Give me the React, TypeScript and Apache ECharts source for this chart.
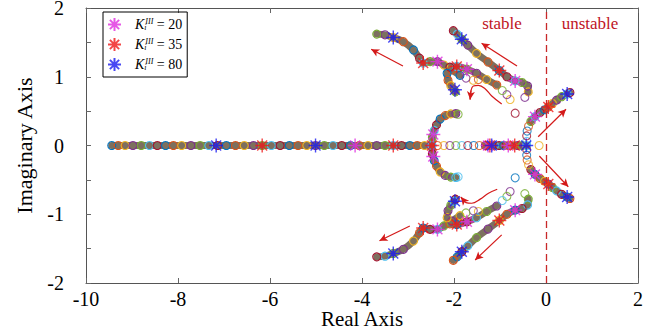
import React, { useEffect, useRef } from 'react';
import * as echarts from 'echarts';

// ---------- data ----------
// real-axis locus (imaginary part 0)
const realDenseLeft = [-9.44, -9.3, -9.15, -8.98, -8.8, -8.62, -8.45, -8.27, -8.1, -7.92, -7.72, -7.52, -7.33, -7.14, -6.95, -6.75, -6.56, -6.36, -6.17, -5.97, -5.78, -5.58, -5.39, -5.2, -5.01, -4.82, -4.63, -4.44, -4.25, -4.06, -3.87, -3.68, -3.5, -3.32, -3.14, -2.96, -2.8, -2.64, -2.5];
const realDenseRight = [-1.32, -1.22, -1.12, -1.02, -0.92, -0.82, -0.72, -0.62, -0.52, -0.42];
const realSparse = [-2.36, -2.22, -2.09, -1.96, -1.83, -1.7, -1.57, -1.45, -0.15];

// complex branches, upper half (lower half is the conjugate)
const branchP = [[-1.87, 1.02], [-2.05, 1.1], [-2.22, 1.17], [-2.36, 1.22], [-2.52, 1.22], [-2.67, 1.2], [-2.75, 1.27], [-2.88, 1.39], [-3.1, 1.51], [-3.32, 1.57], [-3.5, 1.61], [-3.68, 1.62]];
const branchPSparse = [[-1.47, 0.96], [-1.58, 0.95], [-1.74, 0.98]];
const branchQ = [[-1.07, 0.88], [-1.29, 0.96], [-1.51, 1.05], [-1.72, 1.11], [-1.94, 1.15], [-2.09, 1.14], [-2.15, 1.05], [-2.13, 0.95], [-2.07, 0.87], [-2.0, 0.81], [-1.97, 0.78]];
const branchQSparse = [[-0.78, 0.67], [-0.85, 0.74], [-0.95, 0.8]];
const branchZ = [[-0.385, 0.78], [-0.4, 0.865], [-0.52, 0.916], [-0.67, 0.94], [-0.85, 1.0], [-1.015, 1.09], [-1.26, 1.215], [-1.51, 1.34], [-1.7, 1.46], [-1.83, 1.545], [-1.93, 1.62], [-2.015, 1.67]];
const branchZSparse = [[-0.46, 0.7]];
const branchW = [[-2.48, 0], [-2.47, 0.12], [-2.43, 0.22], [-2.38, 0.3], [-2.3, 0.385], [-2.19, 0.435], [-2.07, 0.46], [-1.96, 0.465]];
const branchWSparse = [[-1.91, 0.455]];
const branchR = [[-0.33, 0.35], [-0.24, 0.42], [-0.13, 0.48], [-0.03, 0.52], [0.05, 0.56], [0.14, 0.61], [0.23, 0.66], [0.34, 0.71], [0.46, 0.75], [0.52, 0.77]];
const branchRSparse = [[-0.42, 0.06], [-0.42, 0.14], [-0.41, 0.21], [-0.38, 0.28]];
const isolatedRings = [[-0.67, 0.47]];

// gain markers
const k20Real = [-4.15, -1.26, -0.82];
const k20Complex = [[-2.45, 0.16], [-2.36, 1.22], [-1.72, 1.11], [-0.67, 0.94], [-0.24, 0.42]];
const k35Real = [-6.17, -3.32, -2.48, -1.22, -0.68];
const k35Complex = [[-2.67, 1.2], [-1.94, 1.15], [-1.015, 1.09], [0.05, 0.56]];
const k80Real = [-7.17, -5.01, -1.18, -0.43];
const k80Complex = [[-3.32, 1.57], [-1.98, 0.81], [-1.83, 1.545], [0.46, 0.75]];
const gainLabels = { K20: '20', K35: '35', K80: '80' };

// arrows [tail, head]
const straightArrows = [
  [[-3.11, 1.156], [-3.8, 1.4]],
  [[-0.63, 1.156], [-1.4, 1.487]],
  [[-0.17, 0.128], [0.435, 0.527]],
  [[-0.146, -0.153], [0.485, -0.6]],
  [[-2.96, -1.17], [-3.62, -1.385]],
  [[-0.963, -1.3], [-1.54, -1.665]],
];
const curvedArrowUpper = [[-0.963, 0.604], [-1.18, 0.72], [-1.33, 0.83], [-1.47, 0.875], [-1.58, 0.865], [-1.63, 0.8], [-1.65, 0.67]];
const curvedArrowLower = [[-1.06, -0.637], [-1.25, -0.695], [-1.43, -0.78], [-1.615, -0.84], [-1.74, -0.83], [-1.8, -0.79], [-1.85, -0.75]];

const xTicks = { min: -10, max: 2, interval: 2 };
const yTicks = { min: -2, max: 2, interval: 0.5 };

// ---------- styles ----------
const RING = ['#0072BD', '#D95319', '#EDB120', '#7E2F8E', '#77AC30', '#4DBEEE', '#A2142F'];
const BAND = '#7d705f';
const STAR = 'path://M10,0L10,20M0,10L20,10M2.9,2.9L17.1,17.1M2.9,17.1L17.1,2.9';
const SERIF = 'Liberation Serif';
const ARROW_RED = '#d41a1a';

const mirror = (pts: number[][]) => pts.map(([x, y]) => [x, -y]);
const onAxis = (xs: number[]) => xs.map((x) => [x, 0]);

function bandSeries(pts: number[][], key: number) {
  return {
    type: 'line',
    data: pts.map((p, i) => ({ value: p, itemStyle: { borderColor: RING[(i + key) % RING.length] } })),
    smooth: 0.3,
    symbol: 'circle',
    symbolSize: 8,
    showSymbol: true,
    lineStyle: { color: BAND, width: 7, cap: 'round', join: 'round' },
    itemStyle: { color: 'rgba(0,0,0,0)', borderWidth: 1.1 },
    z: 2,
    silent: true,
  };
}

function ringSeries(pts: number[][], key: number) {
  return {
    type: 'scatter',
    data: pts.map((p, i) => ({ value: p, itemStyle: { borderColor: RING[(i + key) % RING.length] } })),
    symbol: 'circle',
    symbolSize: 8,
    itemStyle: { color: 'rgba(0,0,0,0)', borderWidth: 1.1 },
    z: 2,
    silent: true,
  };
}

function starSeries(name: string, color: string, real: number[], cplx: number[][]) {
  return {
    type: 'scatter',
    name,
    data: [...onAxis(real), ...cplx, ...mirror(cplx)],
    symbol: STAR,
    symbolSize: 14,
    itemStyle: { color: 'rgba(0,0,0,0)', borderColor: color, borderWidth: 1.4 },
    z: 5,
    silent: true,
  };
}

function curveSeries(pts: number[][]) {
  const n = pts.length;
  return {
    type: 'line',
    data: pts,
    smooth: 0.4,
    symbol: 'none',
    lineStyle: { color: ARROW_RED, width: 1.2 },
    z: 6,
    silent: true,
    markLine: {
      silent: true,
      symbol: ['none', 'arrow'],
      symbolSize: [6, 8],
      label: { show: false },
      lineStyle: { color: ARROW_RED, width: 1.2, type: 'solid' },
      data: [[{ coord: pts[n - 2] }, { coord: pts[n - 1] }]],
    },
  };
}

export default function App() {
  const ref = useRef<HTMLDivElement>(null);
  useEffect(() => {
    if (!ref.current) return;
    const chart = echarts.init(ref.current, null, { renderer: 'svg' });

    const bands = [branchP, branchQ, branchZ, branchW, branchR];
    const sparse = [branchPSparse, branchQSparse, branchZSparse, branchWSparse, branchRSparse, isolatedRings];
    const series: any[] = [];
    series.push(bandSeries(onAxis(realDenseLeft), 0));
    series.push(bandSeries(onAxis(realDenseRight), 3));
    series.push(ringSeries(onAxis(realSparse), 1));
    bands.forEach((b, i) => {
      series.push(bandSeries(b, i));
      series.push(bandSeries(mirror(b), i + 2));
    });
    sparse.forEach((s, i) => {
      series.push(ringSeries(s, i + 1));
      series.push(ringSeries(mirror(s), i + 2));
    });
    series.push(starSeries('K20', '#e02ee0', k20Real, k20Complex));
    series.push(starSeries('K35', '#f01818', k35Real, k35Complex));
    series.push(starSeries('K80', '#1a1af0', k80Real, k80Complex));
    series.push(curveSeries(curvedArrowUpper));
    series.push(curveSeries(curvedArrowLower));
    // straight arrows + stability boundary
    series.push({
      type: 'line',
      data: [],
      silent: true,
      z: 6,
      markLine: {
        silent: true,
        symbol: ['none', 'arrow'],
        symbolSize: [6, 8],
        label: { show: false },
        lineStyle: { color: ARROW_RED, width: 1.2, type: 'solid' },
        data: straightArrows.map(([a, b]) => [{ coord: a }, { coord: b }]),
      },
    });
    series.push({
      type: 'line',
      data: [],
      silent: true,
      z: 1,
      markLine: {
        silent: true,
        symbol: ['none', 'none'],
        label: { show: false },
        lineStyle: { color: '#c8282a', width: 1.3, type: [7, 4] },
        data: [{ xAxis: 0 }],
      },
    });

    const axisCommon = {
      axisLine: { show: true, onZero: false, lineStyle: { color: '#555', width: 1 } },
      axisTick: { show: true, inside: true, length: 5, lineStyle: { color: '#666' } },
      splitLine: { show: false },
    };

    chart.setOption({
      animation: false,
      backgroundColor: '#fff',
      grid: { left: 86, right: 27, top: 8, bottom: 51, containLabel: false, outerBoundsMode: 'none' },
      legend: {
        data: ['K20', 'K35', 'K80'],
        orient: 'vertical',
        left: 103,
        top: 12,
        itemWidth: 13,
        itemHeight: 13,
        itemGap: 5,
        padding: [5, 5, 5, 4],
        borderColor: '#000',
        borderWidth: 1,
        selectedMode: false,
        formatter: (name: string) => `{k|K}{sub|i}{sup|III}{eq| = ${(gainLabels as any)[name]}}`,
        textStyle: {
          color: '#000',
          fontFamily: SERIF,
          fontSize: 14,
          rich: {
            k: { fontFamily: SERIF, fontStyle: 'italic', fontSize: 14, lineHeight: 14, padding: [0, 0, 0, 9] },
            sub: { fontFamily: SERIF, fontStyle: 'italic', fontSize: 8, lineHeight: 14, verticalAlign: 'bottom', width: 1 },
            sup: { fontFamily: SERIF, fontStyle: 'italic', fontSize: 8, lineHeight: 14, verticalAlign: 'top' },
            eq: { fontFamily: SERIF, fontSize: 14, lineHeight: 14 },
          },
        },
      },
      xAxis: [
        {
          type: 'value',
          ...xTicks,
          position: 'bottom',
          name: 'Real Axis',
          nameLocation: 'middle',
          nameGap: 25,
          nameMoveOverlap: false,
          nameTextStyle: { fontFamily: SERIF, fontSize: 21, lineHeight: 21, color: '#000' },
          axisLabel: { fontFamily: SERIF, fontSize: 20, lineHeight: 18, color: '#000', margin: 7 },
          ...axisCommon,
        },
        {
          type: 'value',
          ...xTicks,
          position: 'top',
          axisLabel: { show: false },
          ...axisCommon,
        },
      ],
      yAxis: [
        {
          type: 'value',
          ...yTicks,
          position: 'left',
          name: 'Imaginary Axis',
          nameLocation: 'middle',
          nameGap: 51,
          nameMoveOverlap: false,
          nameTextStyle: { fontFamily: SERIF, fontSize: 22, color: '#000' },
          axisLabel: {
            fontFamily: SERIF,
            fontSize: 20,
            lineHeight: 16,
            color: '#000',
            margin: 22,
            formatter: (v: number) => (Number.isInteger(v) ? String(v) : ''),
          },
          ...axisCommon,
        },
        {
          type: 'value',
          ...yTicks,
          position: 'right',
          axisLabel: { show: false },
          ...axisCommon,
        },
      ],
      graphic: [
        { type: 'text', x: 502, y: 23, style: { text: 'stable', fill: '#c0141e', font: `17px "${SERIF}"`, textAlign: 'center', textVerticalAlign: 'middle' } },
        { type: 'text', x: 590, y: 23, style: { text: 'unstable', fill: '#c0141e', font: `17px "${SERIF}"`, textAlign: 'center', textVerticalAlign: 'middle' } },
      ],
      series,
    });
    return () => chart.dispose();
  }, []);
  return <div ref={ref} style={{ width: 665, height: 334, position: 'absolute', left: 0, top: 0 }} />;
}
